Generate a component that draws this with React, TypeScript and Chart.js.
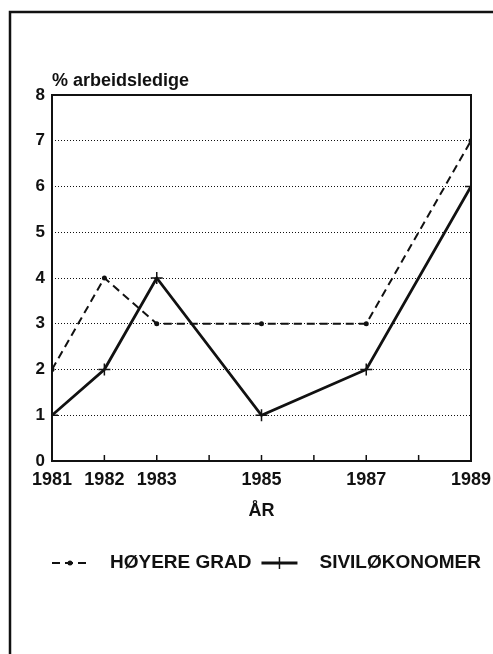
import React, { useEffect, useRef } from "react";
import { Chart, registerables } from "chart.js";

Chart.register(...registerables);

// ---- data ----
const years = [1981, 1982, 1983, 1985, 1987, 1989];
const hoyereGrad = [2, 4, 3, 3, 3, 7];
const sivilokonomer = [1, 2, 4, 1, 2, 6];
const seriesLabels = ["HØYERE GRAD", "SIVILØKONOMER"];
const yAxisTitle = "% arbeidsledige";
const xAxisTitle = "ÅR";
const xMin = 1981;
const xMax = 1989;
const yMin = 0;
const yMax = 8;

const FONT = '"Liberation Sans", Arial, Helvetica, sans-serif';
const INK = "#111111";

const decorPlugin = {
  id: "decor",
  afterDraw(chart: any) {
    const { ctx, chartArea: a, scales } = chart;
    const xs = scales.x;
    ctx.save();
    ctx.strokeStyle = INK;
    ctx.fillStyle = INK;
    ctx.setLineDash([]);

    // outer page frame (left + top)
    ctx.lineWidth = 2.5;
    ctx.beginPath();
    ctx.moveTo(10, chart.height);
    ctx.lineTo(10, 12);
    ctx.lineTo(chart.width, 12);
    ctx.stroke();

    // plot box
    ctx.lineWidth = 2;
    ctx.strokeRect(a.left, a.top, a.right - a.left, a.bottom - a.top);

    // minor year ticks along the bottom, pointing inward
    ctx.lineWidth = 1.5;
    for (let yr = xMin + 1; yr < xMax; yr++) {
      const px = xs.getPixelForValue(yr);
      ctx.beginPath();
      ctx.moveTo(px, a.bottom);
      ctx.lineTo(px, a.bottom - 6);
      ctx.stroke();
    }

    // titles
    ctx.font = `bold 18px ${FONT}`;
    ctx.textAlign = "left";
    ctx.textBaseline = "alphabetic";
    ctx.fillText(yAxisTitle, a.left, a.top - 9);
    ctx.textAlign = "center";
    ctx.fillText(xAxisTitle, (a.left + a.right) / 2, a.bottom + 55);

    // legend
    const ly = a.bottom + 102;
    let lx = a.left;
    ctx.font = `bold 19px ${FONT}`;
    ctx.textAlign = "left";
    ctx.textBaseline = "middle";
    chart.data.datasets.forEach((ds: any) => {
      const w = 36;
      ctx.lineWidth = ds.borderWidth;
      ctx.setLineDash(ds.borderDash || []);
      ctx.beginPath();
      ctx.moveTo(lx, ly);
      ctx.lineTo(lx + w, ly);
      ctx.stroke();
      ctx.setLineDash([]);
      const cx = lx + w / 2;
      if (ds.pointStyle === "cross") {
        ctx.lineWidth = 1.5;
        ctx.beginPath();
        ctx.moveTo(cx, ly - 6);
        ctx.lineTo(cx, ly + 6);
        ctx.stroke();
      } else {
        ctx.beginPath();
        ctx.arc(cx, ly, 2.5, 0, Math.PI * 2);
        ctx.fill();
      }
      const tx = lx + w + 22;
      ctx.fillText(ds.label, tx, ly);
      lx = tx + ctx.measureText(ds.label).width + 10;
    });

    ctx.restore();
  },
};

export default function App() {
  const ref = useRef<HTMLCanvasElement | null>(null);

  useEffect(() => {
    if (!ref.current) return;
    const chart = new Chart(ref.current, {
      type: "line",
      data: {
        datasets: [
          {
            label: seriesLabels[0],
            data: years.map((x, i) => ({ x, y: hoyereGrad[i] })),
            borderColor: INK,
            backgroundColor: INK,
            borderWidth: 2,
            borderDash: [8, 5],
            pointStyle: "circle",
            pointRadius: 2.5,
            pointBorderWidth: 0,
            tension: 0,
          },
          {
            label: seriesLabels[1],
            data: years.map((x, i) => ({ x, y: sivilokonomer[i] })),
            borderColor: INK,
            backgroundColor: INK,
            borderWidth: 2.8,
            pointStyle: "cross",
            pointRadius: 6,
            pointBorderWidth: 1.5,
            tension: 0,
          },
        ],
      },
      options: {
        animation: false,
        responsive: true,
        maintainAspectRatio: false,
        layout: { padding: { left: 0, right: 22, top: 95, bottom: 153 } },
        plugins: {
          legend: { display: false },
          title: { display: false },
          tooltip: { enabled: false },
        },
        scales: {
          x: {
            type: "linear",
            min: xMin,
            max: xMax,
            afterFit: (s: any) => {
              s.height = 40;
              s.paddingLeft = 0;
              s.paddingRight = 0;
            },
            border: { display: false },
            grid: { display: false, drawTicks: false },
            ticks: {
              stepSize: 1,
              autoSkip: false,
              maxRotation: 0,
              padding: 8,
              color: INK,
              font: { family: FONT, size: 18, weight: "bold" },
              callback: (v: any) => (years.includes(Number(v)) ? String(v) : ""),
            },
          },
          y: {
            min: yMin,
            max: yMax,
            afterFit: (s: any) => {
              s.width = 52;
              s.paddingTop = 0;
              s.paddingBottom = 0;
            },
            border: { display: false, dash: [1, 2] },
            grid: {
              color: INK,
              lineWidth: 1,
              drawTicks: false,
            },
            ticks: {
              stepSize: 1,
              padding: 7,
              color: INK,
              font: { family: FONT, size: 17, weight: "bold" },
            },
          },
        },
      },
      plugins: [decorPlugin],
    } as any);
    return () => chart.destroy();
  }, []);

  return (
    <div style={{ position: "absolute", left: 0, top: 0, width: 493, height: 654, background: "#ffffff" }}>
      <canvas ref={ref} />
    </div>
  );
}
